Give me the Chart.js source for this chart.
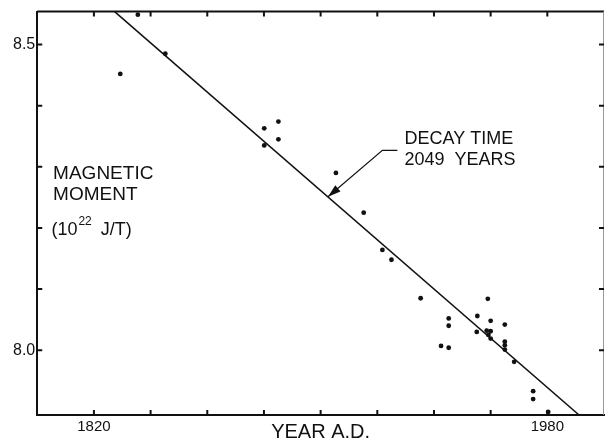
<!DOCTYPE html>
<html>
<head>
<meta charset="utf-8">
<script src="https://cdn.jsdelivr.net/npm/chart.js@4.4.1/dist/chart.umd.min.js"></script>
<style>
  html, body { margin: 0; padding: 0; background: #fff; }
  #wrap { width: 608px; height: 442px; }
</style>
</head>
<body>
<div id="wrap"><canvas id="chart"></canvas></div>
<script>
// dipole moment estimates, year A.D. vs 10^22 J/T
var years = [1829.3, 1835.5, 1845.2, 1880.1, 1880.1, 1885.1, 1885.1, 1905.4, 1915.2, 1921.8,
             1925.0, 1935.3, 1942.5, 1945.2, 1945.2, 1945.2, 1955.1, 1955.3, 1958.6, 1959.0,
             1959.2, 1960.0, 1960.0, 1960.0, 1965.0, 1965.0, 1965.0, 1965.0, 1968.3, 1975.0,
             1975.0, 1980.3];
var moments = [8.452, 8.549, 8.485, 8.363, 8.335, 8.374, 8.345, 8.290, 8.225, 8.164,
               8.148, 8.085, 8.007, 8.052, 8.040, 8.004, 8.030, 8.056, 8.032, 8.084,
               8.025, 8.048, 8.031, 8.019, 8.042, 8.014, 8.008, 8.001, 7.981, 7.933,
               7.920, 7.899];

// fitted decay line, read where it meets the frame
var fitYears = [1827.3, 1991.2];
var fitMoments = [8.554, 7.894];

var xTickLabels = { 1820: '1820', 1980: '1980' };
var yTickLabels = { '8.5': '8.5', '8.0': '8.0' };

var ink = '#111';
var textFont = '"Liberation Sans", Arial, sans-serif';

var points = years.map((y, i) => ({ x: y, y: moments[i] }));
var fit = fitYears.map((y, i) => ({ x: y, y: fitMoments[i] }));

// inward ticks on all four sides, top/right frame, and the notes
var frame = {
    id: 'frame',
    afterDatasetsDraw(chart) {
        const c = chart.ctx;
        const a = chart.chartArea;
        const xs = chart.scales.x;
        const ys = chart.scales.y;
        c.save();
        c.strokeStyle = ink;
        c.lineWidth = 2;
        c.beginPath();
        c.moveTo(a.left, a.top);
        c.lineTo(a.right, a.top);
        c.stroke();
        c.strokeStyle = '#999';
        c.lineWidth = 1;
        c.beginPath();
        c.moveTo(a.right - 0.5, a.top);
        c.lineTo(a.right - 0.5, a.bottom);
        c.stroke();

        c.strokeStyle = ink;
        c.lineWidth = 2;
        xs.ticks.forEach(t => {
            if (t.value <= xs.min || t.value >= xs.max) return;
            const px = xs.getPixelForValue(t.value);
            c.beginPath();
            c.moveTo(px, a.bottom); c.lineTo(px, a.bottom - 5);
            c.moveTo(px, a.top); c.lineTo(px, a.top + 5);
            c.stroke();
        });
        ys.ticks.forEach(t => {
            if (t.value < 7.95) return;
            const py = ys.getPixelForValue(t.value);
            c.beginPath();
            c.moveTo(a.left, py); c.lineTo(a.left + 5, py);
            c.moveTo(a.right, py); c.lineTo(a.right - 5, py);
            c.stroke();
        });

        c.fillStyle = ink;
        c.textBaseline = 'middle';
        c.textAlign = 'left';
        const px = v => xs.getPixelForValue(v);
        const py = v => ys.getPixelForValue(v);

        c.font = '19px ' + textFont;
        c.fillText('MAGNETIC', px(1805.6), py(8.288));
        c.fillText('MOMENT', px(1805.6), py(8.254));

        c.font = '18px ' + textFont;
        let x0 = px(1805.0), y0 = py(8.197);
        c.fillText('(10', x0, y0);
        x0 += c.measureText('(10').width + 1;
        c.font = '12px ' + textFont;
        c.fillText('22', x0, y0 - 8);
        x0 += c.measureText('22').width + 9;
        c.font = '18px ' + textFont;
        c.fillText('J/T)', x0, y0);

        c.font = '18px ' + textFont;
        c.fillText('DECAY TIME', px(1929.6), py(8.345));
        c.fillText('2049  YEARS', px(1929.6), py(8.311));

        // leader with arrowhead onto the fitted line
        const sx = px(1927.1), sy = py(8.327);
        const ex = px(1921.8), ey = py(8.327);
        const tx = px(1902.6), ty = py(8.251);
        c.lineWidth = 1.2;
        c.beginPath();
        c.moveTo(sx, sy); c.lineTo(ex, ey); c.lineTo(tx, ty);
        c.stroke();
        const ang = Math.atan2(ty - ey, tx - ex);
        const len = 13, half = 4;
        c.beginPath();
        c.moveTo(tx, ty);
        c.lineTo(tx - len * Math.cos(ang) + half * Math.sin(ang), ty - len * Math.sin(ang) - half * Math.cos(ang));
        c.lineTo(tx - len * Math.cos(ang) - half * Math.sin(ang), ty - len * Math.sin(ang) + half * Math.cos(ang));
        c.closePath();
        c.fill();
        c.restore();
    }
};

new Chart(document.getElementById('chart'), {
    type: 'scatter',
    data: {
        datasets: [
            {
                label: 'observations',
                data: points,
                backgroundColor: ink,
                borderColor: ink,
                pointRadius: 2.4,
                pointBorderWidth: 0
            },
            {
                label: 'decay fit',
                data: fit,
                showLine: true,
                borderColor: ink,
                borderWidth: 1.5,
                pointRadius: 0
            }
        ]
    },
    options: {
        responsive: true,
        maintainAspectRatio: false,
        animation: false,
        layout: { padding: { left: 11, top: 9, right: 1, bottom: 0 } },
        plugins: {
            legend: { display: false },
            tooltip: { enabled: false }
        },
        scales: {
            x: {
                type: 'linear',
                min: 1800,
                max: 2000,
                grid: { display: false, drawTicks: false },
                border: { display: true, color: ink, width: 2 },
                ticks: {
                    stepSize: 20,
                    autoSkip: false,
                    maxRotation: 0,
                    padding: 3,
                    color: ink,
                    font: { family: textFont, size: 15 },
                    callback: v => xTickLabels[v] || ''
                },
                title: {
                    display: true,
                    text: 'YEAR A.D.',
                    color: ink,
                    font: { family: textFont, size: 20, lineHeight: 1 },
                    padding: { top: -17, bottom: 0 }
                }
            },
            y: {
                type: 'linear',
                min: 7.894,
                max: 8.554,
                grid: { display: false, drawTicks: false },
                border: { display: true, color: ink, width: 2 },
                ticks: {
                    stepSize: 0.1,
                    includeBounds: false,
                    padding: 2,
                    color: ink,
                    font: { family: textFont, size: 16 },
                    callback: v => yTickLabels[v.toFixed(1)] || ''
                }
            }
        }
    },
    plugins: [frame]
});
</script>
</body>
</html>
